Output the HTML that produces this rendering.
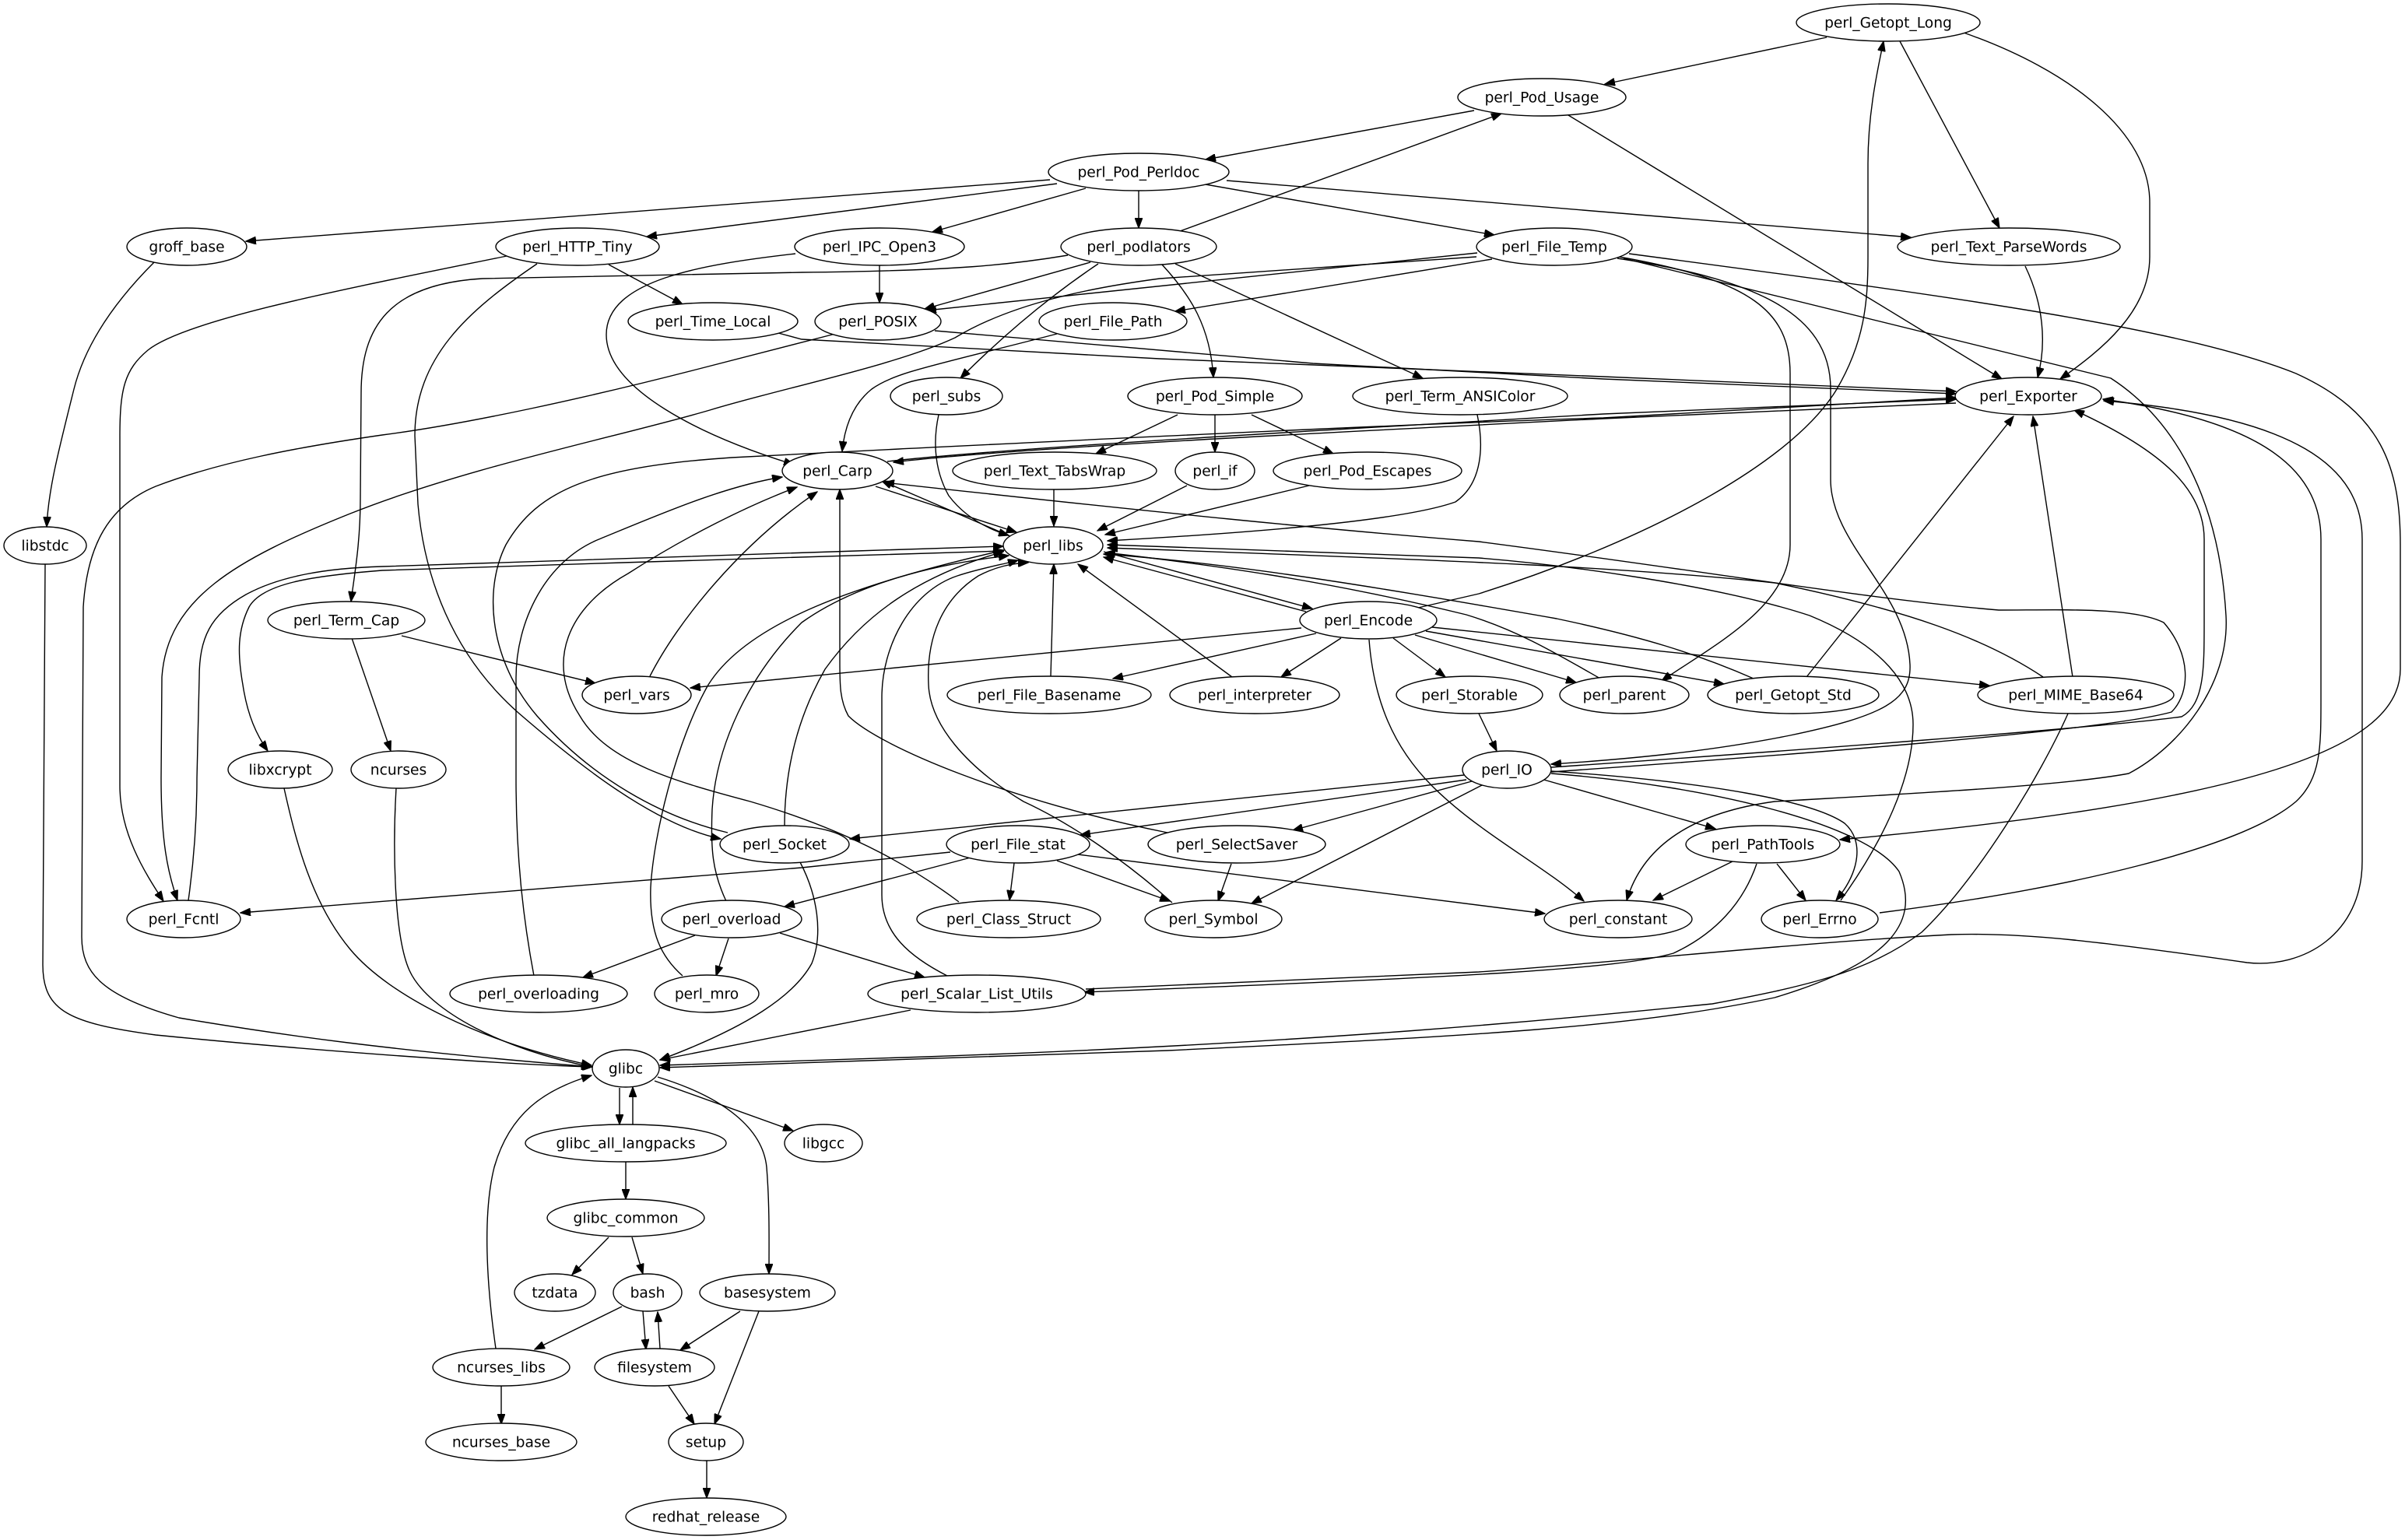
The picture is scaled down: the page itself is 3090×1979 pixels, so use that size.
<!DOCTYPE html>
<html><head><meta charset="utf-8"><style>
html,body{margin:0;padding:0;background:#fff;}
svg{display:block;}
</style></head><body>
<svg xmlns="http://www.w3.org/2000/svg" width="3090" height="1979" viewBox="0 0 3090 1979">
<defs>
<marker id="a" markerWidth="14" markerHeight="10" refX="13" refY="5" orient="auto" markerUnits="userSpaceOnUse"><path d="M0,0 L13.3,5 L0,10 z" fill="#000" stroke="#000" stroke-width="1"/></marker>
</defs>
<rect width="3090" height="1979" fill="#fff"/>
<g fill="none" stroke="#000" stroke-width="1.4" marker-end="url(#a)">
<path d="M2347,48 L2062,108"/>
<path d="M2441,53 L2569,293"/>
<path d="M2523,42 C2660,90 2762,170 2762,260 L2762,330 C2762,400 2700,450 2647,487"/>
<path d="M1822,781 L1900,763 C2100,700 2300,600 2360,500 C2395,440 2400,390 2400,330 L2400,210 C2400,150 2410,100 2420,53"/>
<path d="M1894,142 L1549,205"/>
<path d="M2015,148 L2572,487"/>
<path d="M1516,297 L1929,146"/>
<path d="M1349,231 L316,310"/>
<path d="M1358,236 L831,304"/>
<path d="M1395,242 L1198,298"/>
<path d="M1463,245 L1463,293"/>
<path d="M1549,237 L1920,302"/>
<path d="M1576,232 L2455,305"/>
<path d="M198,337 C150,385 110,440 95,500 C75,580 62,630 60,677"/>
<path d="M58,725 L55,1240 C55,1300 90,1315 200,1330 C400,1350 650,1368 761,1371"/>
<path d="M782,340 L877,391"/>
<path d="M651,329 C450,370 240,410 190,450 C160,475 154,500 154,560 L154,1010 C154,1070 185,1120 210,1158"/>
<path d="M690,339 C600,400 533,460 533,560 L537,648 C545,740 580,840 666,916 C740,980 840,1060 926,1078"/>
<path d="M1130,341 L1130,389"/>
<path d="M1022,326 C900,340 779,360 779,430 C779,500 900,560 1020,597"/>
<path d="M1372,328 C1300,340 1230,348 1030,350 L620,358 C500,365 464,420 464,505 L463,640 C463,700 455,740 451,773"/>
<path d="M1401,337 L1188,397"/>
<path d="M1411,339 C1350,380 1290,430 1234,486"/>
<path d="M1493,340 C1530,380 1555,420 1559,485"/>
<path d="M1510,339 L1828,486"/>
<path d="M1898,325 L1190,399"/>
<path d="M1897,330 L1490,358 C1400,370 1300,390 1227,434 C1150,470 1000,500 912,527 C800,560 600,600 450,660 C300,720 215,770 208,870 L207,1000 C207,1080 215,1120 228,1157"/>
<path d="M1917,333 L1510,400"/>
<path d="M2080,330 C2250,360 2300,400 2300,480 L2300,700 C2300,780 2200,830 2135,875"/>
<path d="M2078,332 C2250,358 2352,400 2352,500 L2352,616 C2352,700 2450,760 2454,854 C2456,900 2420,920 2300,945 C2200,965 2100,975 1993,982"/>
<path d="M2093,326 C2500,380 2800,420 2950,480 C3060,530 3084,600 3084,700 L3084,860 C3084,960 2900,1030 2364,1079"/>
<path d="M2086,332 L2712,486 C2780,530 2850,620 2860,791 C2865,880 2800,960 2735,994 C2650,1010 2450,1020 2280,1030 C2170,1045 2110,1090 2090,1157"/>
<path d="M2602,342 C2625,390 2630,440 2618,485"/>
<path d="M1000,428 L1030,436 L1490,461 L2060,484 L2513,503"/>
<path d="M1201,425 L1687,467 L2060,487 L2513,506"/>
<path d="M1073,429 L898,474 C750,512 600,545 491,559 C380,575 281,594 200,625 C140,650 112,700 107,780 L105,1204 C105,1250 131,1280 230,1308 C360,1330 500,1350 760,1371"/>
<path d="M1358,429 C1200,470 1150,478 1120,500 C1095,520 1085,550 1082,580"/>
<path d="M1140,593 C1300,575 1700,553 2060,532 L2513,513"/>
<path d="M2513,518 L2060,538 C1700,556 1300,576 1148,594"/>
<path d="M935,1070 C850,1050 760,1000 690,920 C630,850 620,760 650,700 C690,630 760,600 940,588 L1155,577 C1400,565 1800,545 2060,537 L2513,511"/>
<path d="M1500,1070 C1300,1030 1130,960 1090,920 C1079,900 1079,880 1079,850 L1079,629"/>
<path d="M1232,1159 C1180,1120 1100,1070 964,1030 C870,1005 780,980 745,920 C700,850 730,780 807,737 C880,690 960,650 1024,626"/>
<path d="M835,869 C870,800 950,700 1050,632"/>
<path d="M686,1254 C672,1180 663,1100 663,1000 L663,871 C663,800 700,720 772,692 C850,660 930,625 1005,613"/>
<path d="M516,817 L765,878"/>
<path d="M452,820 L502,965"/>
<path d="M1290,708 C1200,711 1100,714 800,723 L491,733 C400,740 337,750 320,780 C305,810 305,840 312,880 C318,920 330,945 344,965"/>
<path d="M242,1157 C250,1100 253,1050 253,1000 L256,871 C256,820 270,790 316,764 C360,740 420,730 491,728 L1100,708 L1289,702"/>
<path d="M1672,807 L887,884"/>
<path d="M1125,625 L1306,684"/>
<path d="M1300,690 L1133,618"/>
<path d="M1206,533 C1200,560 1198,600 1219,637 C1240,665 1270,680 1296,688"/>
<path d="M1354,629 L1354,676"/>
<path d="M1525,624 L1410,682"/>
<path d="M1682,624 L1420,687"/>
<path d="M1513,533 L1408,583"/>
<path d="M1561,533 L1561,581"/>
<path d="M1608,533 L1713,583"/>
<path d="M1898,533 C1906,570 1906,620 1870,645 C1800,670 1600,685 1423,695"/>
<path d="M1993,992 C2300,970 2700,940 2790,915 C2815,890 2815,840 2780,800 C2740,780 2650,784 2568,784 C2400,770 2200,735 1900,696 C1700,680 1500,660 1136,620"/>
<path d="M1993,986 C2300,965 2700,935 2803,921 C2832,905 2832,860 2832,800 L2832,693 C2832,630 2780,580 2665,527"/>
<path d="M2365,1157 C2420,1080 2458,1000 2458,931 C2458,880 2420,830 2325,791 C2200,750 2000,725 1900,717 L1423,700"/>
<path d="M2625,870 C2550,820 2450,784 2280,749 C2100,730 1900,721 1423,704"/>
<path d="M2056,872 C2000,840 1950,810 1884,790 C1700,745 1550,725 1420,710"/>
<path d="M2253,872 C2180,840 2109,818 2000,795 C1800,760 1600,725 1418,712"/>
<path d="M1678,786 L1418,716"/>
<path d="M1418,709 L1686,782"/>
<path d="M1350,869 L1354,725"/>
<path d="M1583,870 L1385,725"/>
<path d="M1506,1160 C1450,1110 1380,1060 1315,1030 C1240,985 1195,930 1193,880 C1190,820 1210,770 1257,740 C1280,728 1300,724 1321,723"/>
<path d="M1217,1254 C1170,1230 1133,1200 1133,1150 L1133,896 C1133,830 1170,760 1230,740 C1260,730 1290,725 1308,720"/>
<path d="M933,1158 C915,1120 913,1090 915,1040 C920,960 960,870 1030,800 C1100,750 1200,725 1296,714"/>
<path d="M1008,1062 C1008,1000 1020,930 1060,860 C1110,790 1180,740 1289,709"/>
<path d="M877,1254 C850,1230 834,1200 836,1140 C840,1070 870,950 910,880 C960,800 1100,750 1290,707"/>
<path d="M1691,814 L1430,872"/>
<path d="M1723,820 L1646,870"/>
<path d="M1790,820 L1857,870"/>
<path d="M1818,816 L2025,877"/>
<path d="M1832,811 L2215,879"/>
<path d="M1840,806 L2556,881"/>
<path d="M1759,822 C1765,900 1790,960 1840,1010 C1900,1070 1980,1110 2035,1158"/>
<path d="M1900,917 L1923,965"/>
<path d="M2321,870 L2587,535"/>
<path d="M2663,870 L2612,535"/>
<path d="M2415,1173 C2659,1142 2880,1090 2950,1030 C2982,1000 2982,960 2982,900 L2982,693 C2982,600 2900,540 2702,513"/>
<path d="M1395,1271 L1900,1249 C2100,1235 2300,1212 2507,1201 C2600,1198 2700,1210 2887,1237 C2960,1245 3035,1200 3035,1107 L3035,693 C3035,600 2950,535 2703,515"/>
<path d="M1881,996 L1092,1078"/>
<path d="M1884,1002 L1388,1073"/>
<path d="M1891,1004 L1661,1067"/>
<path d="M1904,1009 L1608,1161"/>
<path d="M1980,1001 L2204,1065"/>
<path d="M1993,991 C2200,1005 2330,1030 2370,1058 C2395,1080 2390,1120 2359,1157"/>
<path d="M1993,994 C2200,1010 2400,1060 2440,1120 C2470,1190 2420,1240 2280,1282 C2100,1320 1900,1331 1500,1350 L848,1372"/>
<path d="M2657,917 C2620,1000 2540,1130 2469,1198 C2400,1250 2317,1268 2200,1290 C2000,1310 1700,1340 1190,1358 L848,1369"/>
<path d="M2257,1110 C2240,1160 2204,1200 2150,1225 C2080,1245 1900,1255 1393,1275"/>
<path d="M2226,1107 L2124,1157"/>
<path d="M2283,1110 L2320,1157"/>
<path d="M1221,1095 L1030,1115 L309,1173"/>
<path d="M1247,1102 L1008,1165"/>
<path d="M1303,1109 L1297,1157"/>
<path d="M1358,1106 L1503,1158"/>
<path d="M1385,1098 L1985,1174"/>
<path d="M1582,1110 L1565,1158"/>
<path d="M893,1202 L749,1256"/>
<path d="M936,1206 L920,1254"/>
<path d="M1002,1199 L1188,1256"/>
<path d="M1028,1108 C1050,1150 1058,1200 1043,1238 C1020,1280 960,1320 848,1362"/>
<path d="M1170,1298 L848,1362"/>
<path d="M365,1013 C380,1080 400,1160 450,1220 C500,1280 620,1340 760,1369"/>
<path d="M509,1013 C505,1080 505,1200 526,1247 C550,1300 650,1350 760,1371"/>
<path d="M796,1398 L796,1445"/>
<path d="M813,1445 L813,1397"/>
<path d="M841,1389 L1019,1453"/>
<path d="M845,1384 C930,1410 980,1450 985,1500 C989,1550 988,1600 988,1637"/>
<path d="M804,1493 L804,1541"/>
<path d="M782,1590 L735,1638"/>
<path d="M812,1590 L826,1637"/>
<path d="M799,1679 L687,1734"/>
<path d="M826,1685 L830,1734"/>
<path d="M848,1733 L845,1686"/>
<path d="M951,1685 L874,1735"/>
<path d="M975,1685 L918,1830"/>
<path d="M859,1781 L892,1830"/>
<path d="M644,1781 L644,1830"/>
<path d="M637,1733 C625,1650 620,1560 635,1500 C655,1430 700,1400 760,1382"/>
<path d="M908,1877 L908,1925"/>
</g>
<g fill="#fff" stroke="#000" stroke-width="1.4">
<ellipse cx="2426" cy="29" rx="118" ry="24"/>
<ellipse cx="1981" cy="125" rx="108" ry="24"/>
<ellipse cx="1463" cy="221" rx="116" ry="24"/>
<ellipse cx="240" cy="317" rx="77" ry="24"/>
<ellipse cx="742" cy="317" rx="105" ry="24"/>
<ellipse cx="1130" cy="317" rx="109" ry="24"/>
<ellipse cx="1463" cy="317" rx="100" ry="24"/>
<ellipse cx="1997" cy="317" rx="100" ry="24"/>
<ellipse cx="2581" cy="317" rx="143" ry="24"/>
<ellipse cx="916" cy="413" rx="109" ry="24"/>
<ellipse cx="1128" cy="413" rx="81" ry="24"/>
<ellipse cx="1430" cy="413" rx="95" ry="24"/>
<ellipse cx="1216" cy="509" rx="72" ry="24"/>
<ellipse cx="1561" cy="509" rx="112" ry="24"/>
<ellipse cx="1876" cy="509" rx="138" ry="24"/>
<ellipse cx="2606" cy="509" rx="94" ry="24"/>
<ellipse cx="1076" cy="605" rx="71" ry="24"/>
<ellipse cx="1355" cy="605" rx="131" ry="24"/>
<ellipse cx="1561" cy="605" rx="51" ry="24"/>
<ellipse cx="1757" cy="605" rx="121" ry="24"/>
<ellipse cx="58" cy="701" rx="53" ry="24"/>
<ellipse cx="1353" cy="701" rx="64" ry="24"/>
<ellipse cx="445" cy="797" rx="101" ry="24"/>
<ellipse cx="1758" cy="797" rx="88" ry="24"/>
<ellipse cx="818" cy="893" rx="70" ry="24"/>
<ellipse cx="1348" cy="893" rx="131" ry="24"/>
<ellipse cx="1612" cy="893" rx="109" ry="24"/>
<ellipse cx="1888" cy="893" rx="94" ry="24"/>
<ellipse cx="2087" cy="893" rx="83" ry="24"/>
<ellipse cx="2304" cy="893" rx="110" ry="24"/>
<ellipse cx="2667" cy="893" rx="126" ry="24"/>
<ellipse cx="360" cy="989" rx="67" ry="24"/>
<ellipse cx="512" cy="989" rx="61" ry="24"/>
<ellipse cx="1936" cy="989" rx="57" ry="24"/>
<ellipse cx="1008" cy="1085" rx="83" ry="24"/>
<ellipse cx="1308" cy="1085" rx="92" ry="24"/>
<ellipse cx="1589" cy="1085" rx="114" ry="24"/>
<ellipse cx="2265" cy="1085" rx="99" ry="24"/>
<ellipse cx="236" cy="1181" rx="73" ry="24"/>
<ellipse cx="940" cy="1181" rx="90" ry="24"/>
<ellipse cx="1296" cy="1181" rx="118" ry="24"/>
<ellipse cx="1559" cy="1181" rx="88" ry="24"/>
<ellipse cx="2079" cy="1181" rx="95" ry="24"/>
<ellipse cx="2338" cy="1181" rx="75" ry="24"/>
<ellipse cx="692" cy="1277" rx="114" ry="24"/>
<ellipse cx="908" cy="1277" rx="67" ry="24"/>
<ellipse cx="1255" cy="1277" rx="140" ry="24"/>
<ellipse cx="804" cy="1373" rx="43" ry="24"/>
<ellipse cx="804" cy="1469" rx="129" ry="24"/>
<ellipse cx="1058" cy="1469" rx="50" ry="24"/>
<ellipse cx="804" cy="1565" rx="101" ry="24"/>
<ellipse cx="713" cy="1661" rx="52" ry="24"/>
<ellipse cx="832" cy="1661" rx="44" ry="24"/>
<ellipse cx="986" cy="1661" rx="87" ry="24"/>
<ellipse cx="644" cy="1757" rx="88" ry="24"/>
<ellipse cx="841" cy="1757" rx="77" ry="24"/>
<ellipse cx="644" cy="1853" rx="97" ry="24"/>
<ellipse cx="907" cy="1853" rx="48" ry="24"/>
<ellipse cx="907" cy="1949" rx="103" ry="24"/>
</g>
<g font-family="'DejaVu Sans', 'Liberation Sans', sans-serif" font-size="18.67" text-anchor="middle" fill="#000">
<text x="2426" y="35.5">perl_Getopt_Long</text>
<text x="1981" y="131.5">perl_Pod_Usage</text>
<text x="1463" y="227.5">perl_Pod_Perldoc</text>
<text x="240" y="323.5">groff_base</text>
<text x="742" y="323.5">perl_HTTP_Tiny</text>
<text x="1130" y="323.5">perl_IPC_Open3</text>
<text x="1463" y="323.5">perl_podlators</text>
<text x="1997" y="323.5">perl_File_Temp</text>
<text x="2581" y="323.5">perl_Text_ParseWords</text>
<text x="916" y="419.5">perl_Time_Local</text>
<text x="1128" y="419.5">perl_POSIX</text>
<text x="1430" y="419.5">perl_File_Path</text>
<text x="1216" y="515.5">perl_subs</text>
<text x="1561" y="515.5">perl_Pod_Simple</text>
<text x="1876" y="515.5">perl_Term_ANSIColor</text>
<text x="2606" y="515.5">perl_Exporter</text>
<text x="1076" y="611.5">perl_Carp</text>
<text x="1355" y="611.5">perl_Text_TabsWrap</text>
<text x="1561" y="611.5">perl_if</text>
<text x="1757" y="611.5">perl_Pod_Escapes</text>
<text x="58" y="707.5">libstdc</text>
<text x="1353" y="707.5">perl_libs</text>
<text x="445" y="803.5">perl_Term_Cap</text>
<text x="1758" y="803.5">perl_Encode</text>
<text x="818" y="899.5">perl_vars</text>
<text x="1348" y="899.5">perl_File_Basename</text>
<text x="1612" y="899.5">perl_interpreter</text>
<text x="1888" y="899.5">perl_Storable</text>
<text x="2087" y="899.5">perl_parent</text>
<text x="2304" y="899.5">perl_Getopt_Std</text>
<text x="2667" y="899.5">perl_MIME_Base64</text>
<text x="360" y="995.5">libxcrypt</text>
<text x="512" y="995.5">ncurses</text>
<text x="1936" y="995.5">perl_IO</text>
<text x="1008" y="1091.5">perl_Socket</text>
<text x="1308" y="1091.5">perl_File_stat</text>
<text x="1589" y="1091.5">perl_SelectSaver</text>
<text x="2265" y="1091.5">perl_PathTools</text>
<text x="236" y="1187.5">perl_Fcntl</text>
<text x="940" y="1187.5">perl_overload</text>
<text x="1296" y="1187.5">perl_Class_Struct</text>
<text x="1559" y="1187.5">perl_Symbol</text>
<text x="2079" y="1187.5">perl_constant</text>
<text x="2338" y="1187.5">perl_Errno</text>
<text x="692" y="1283.5">perl_overloading</text>
<text x="908" y="1283.5">perl_mro</text>
<text x="1255" y="1283.5">perl_Scalar_List_Utils</text>
<text x="804" y="1379.5">glibc</text>
<text x="804" y="1475.5">glibc_all_langpacks</text>
<text x="1058" y="1475.5">libgcc</text>
<text x="804" y="1571.5">glibc_common</text>
<text x="713" y="1667.5">tzdata</text>
<text x="832" y="1667.5">bash</text>
<text x="986" y="1667.5">basesystem</text>
<text x="644" y="1763.5">ncurses_libs</text>
<text x="841" y="1763.5">filesystem</text>
<text x="644" y="1859.5">ncurses_base</text>
<text x="907" y="1859.5">setup</text>
<text x="907" y="1955.5">redhat_release</text>
</g>
</svg>
</body></html>
